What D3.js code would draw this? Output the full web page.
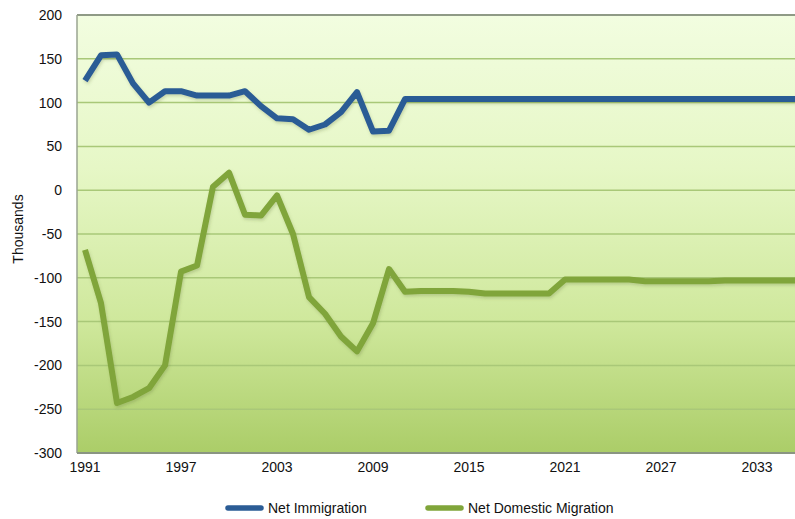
<!DOCTYPE html>
<html><head><meta charset="utf-8">
<script src="https://cdn.jsdelivr.net/npm/d3@7/dist/d3.min.js"></script>
<style>
html,body{margin:0;padding:0;background:#fff;}
svg{display:block;font-family:"Liberation Sans",Arial,sans-serif;}
</style></head>
<body><svg id="chart" width="795" height="519"></svg>
<script>
const years = d3.range(1991, 2037);
const netImmigration = [125,154,155,122,100,113,113,108,108,108,113,96,82,81,69,75,89,112,67,68,
  104,104,104,104,104,104,104,104,104,104,104,104,104,104,104,104,104,104,104,104,104,104,104,104,104,104];
const netDomestic = [-68,-129,-243,-236,-226,-200,-93,-86,4,20,-28,-29,-6,-50,-122,-141,-167,-184,-152,-90,
  -116,-115,-115,-115,-116,-118,-118,-118,-118,-118,-102,-102,-102,-102,-102,-104,-104,-104,-104,-104,-103,-103,-103,-103,-103,-103];
const yTicks = [200,150,100,50,0,-50,-100,-150,-200,-250,-300];
const xTickLabels = [1991,1997,2003,2009,2015,2021,2027,2033];
const seriesNames = ["Net Immigration","Net Domestic Migration"];
const colors = ["#2b5c95","#80a53a"];

const svg = d3.select("#chart");
const L = 77, T = 15, B = 453;
const x = d3.scaleBand().domain(years).range([L, L + 16*years.length]);
const R = 800;
const y = d3.scaleLinear().domain([-300, 200]).range([B, T]);

const defs = svg.append("defs");
const g = defs.append("linearGradient").attr("id","bg").attr("x1",0).attr("y1",0).attr("x2",0).attr("y2",1);
[[0,"#f2fde0"],[0.35,"#e6f7c6"],[0.7,"#cfe89c"],[1,"#abcd68"]].forEach(s=>g.append("stop").attr("offset",s[0]).attr("stop-color",s[1]));
const f = defs.append("filter").attr("id","sh").attr("x","-5%").attr("y","-20%").attr("width","110%").attr("height","140%");
f.append("feDropShadow").attr("dx",1).attr("dy",2).attr("stdDeviation",1.5).attr("flood-color","#556633").attr("flood-opacity",0.25);

svg.append("rect").attr("x",L).attr("y",T).attr("width",R-L).attr("height",B-T).attr("fill","url(#bg)");

// gridlines
svg.append("g").selectAll("line").data(yTicks.filter(v=>v>-300 && v<200)).join("line")
  .attr("x1",L).attr("x2",R).attr("y1",d=>y(d)).attr("y2",d=>y(d))
  .attr("stroke","#a9c878").attr("stroke-width",1.5);

// borders
svg.append("line").attr("x1",L).attr("x2",R).attr("y1",T).attr("y2",T).attr("stroke","#8f9a86").attr("stroke-width",2);
svg.append("line").attr("x1",L).attr("x2",L).attr("y1",T).attr("y2",B).attr("stroke","#9aa590").attr("stroke-width",1.5);
svg.append("line").attr("x1",L).attr("x2",R).attr("y1",B).attr("y2",B).attr("stroke","#8a9582").attr("stroke-width",2);

// y axis labels
const yAxis = d3.axisLeft(y).tickValues(yTicks).tickSize(0).tickPadding(15).tickFormat(d=>String(d));
const ya = svg.append("g").attr("transform",`translate(${L},0)`).call(yAxis);
ya.select(".domain").remove();
ya.selectAll("text").attr("font-size",14).attr("fill","#111").attr("font-family","Liberation Sans, Arial, sans-serif");

// x axis labels
const xAxis = d3.axisBottom(x).tickValues(xTickLabels).tickSize(0).tickPadding(9);
const xa = svg.append("g").attr("transform",`translate(0,${B})`).call(xAxis);
xa.select(".domain").remove();
xa.selectAll("text").attr("font-size",14).attr("fill","#111").attr("font-family","Liberation Sans, Arial, sans-serif");

svg.append("text").attr("transform","translate(23,229) rotate(-90)").attr("text-anchor","middle")
  .attr("font-size",14).attr("fill","#111").text("Thousands");

const line = d3.line().x((d,i)=>x(years[i])+x.bandwidth()/2).y(d=>y(d));
[netDomestic, netImmigration].forEach((s,k)=>{
  const ci = k===0?1:0;
  svg.append("path").attr("d",line(s)).attr("fill","none").attr("stroke",colors[ci])
    .attr("stroke-width",6).attr("stroke-linejoin","round").attr("filter","url(#sh)");
});

// legend
const legend = [{name:seriesNames[0],c:colors[0],x:226},{name:seriesNames[1],c:colors[1],x:426}];
legend.forEach(d=>{
  svg.append("line").attr("x1",d.x+2).attr("x2",d.x+35).attr("y1",508).attr("y2",508)
    .attr("stroke",d.c).attr("stroke-width",5.5).attr("stroke-linecap","round");
  svg.append("text").attr("x",d.x+42).attr("y",513).attr("font-size",14).attr("fill","#111").text(d.name);
});
</script></body></html>
